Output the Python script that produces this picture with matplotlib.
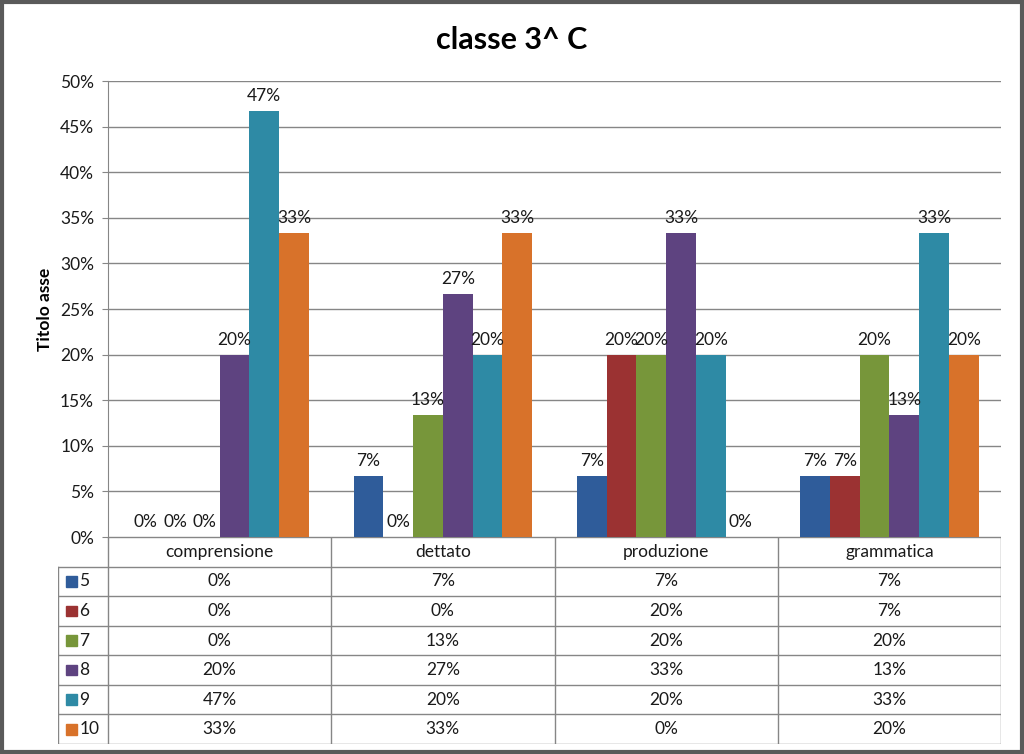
import numpy as np
import matplotlib.pyplot as plt
from matplotlib.patches import Rectangle

plt.rcParams['font.family'] = ['Lato', 'DejaVu Sans']

# --- dati ---
categorie = ["comprensione", "dettato", "produzione", "grammatica"]
serie = ["5", "6", "7", "8", "9", "10"]
valori = [
    [0.0, 1 / 15, 1 / 15, 1 / 15],      # 5
    [0.0, 0.0, 3 / 15, 1 / 15],         # 6
    [0.0, 2 / 15, 3 / 15, 3 / 15],      # 7
    [3 / 15, 4 / 15, 5 / 15, 2 / 15],   # 8
    [7 / 15, 3 / 15, 3 / 15, 5 / 15],   # 9
    [5 / 15, 5 / 15, 0.0, 3 / 15],      # 10
]
colori = ["#2F5C9A", "#9B3232", "#77963A", "#5E4380", "#2E8AA5", "#D8722A"]

W, H = 1024, 754
fig = plt.figure(figsize=(W / 100, H / 100), dpi=100)
FS = 12.5
tc = "#1a1a1a"

# --- grafico ---
x0, x1, y_top, y_zero = 108, 1001, 81, 537
ax = fig.add_axes([x0 / W, 1 - y_zero / H, (x1 - x0) / W, (y_zero - y_top) / H])
x = np.arange(len(categorie))
larg = 1 / 7.5
for i, (nome, vals) in enumerate(zip(serie, valori)):
    pos = x + (i - 2.5) * larg
    ax.bar(pos, vals, width=larg, color=colori[i], zorder=3)
    for px, v in zip(pos, vals):
        ax.annotate(f"{v:.0%}", (px, v), xytext=(0, 5), textcoords="offset points",
                    ha="center", va="bottom", fontsize=FS, color=tc, zorder=4)

ax.set_xlim(-0.5, len(categorie) - 0.5)
ax.set_ylim(0, 0.5)
ax.set_yticks(np.arange(0, 0.51, 0.05))
ax.set_yticklabels([f"{t:.0%}" for t in np.arange(0, 0.51, 0.05)], fontsize=FS, color=tc)
ax.set_xticks([])
ax.tick_params(axis="y", length=4, color="#868686", pad=6)
ax.grid(axis="y", color="#868686", lw=1, zorder=0)
for s in ["top", "right", "bottom"]:
    ax.spines[s].set_visible(False)
ax.spines["left"].set_color("#868686")
ax.set_ylabel("Titolo asse", fontsize=FS, fontweight="bold", labelpad=5)

fig.text(512 / W, 1 - 40 / H, "classe 3^ C", ha="center", va="center",
         fontsize=22, fontweight="bold")

# --- tabella dati ---
t_left, t_bottom = 58, 744
tax = fig.add_axes([t_left / W, 1 - t_bottom / H, (x1 - t_left) / W, (t_bottom - y_zero) / H])
legx = -0.5 - (x0 - t_left) / (x1 - x0) * len(categorie)
tax.set_xlim(legx, len(categorie) - 0.5)
tax.set_ylim(len(serie) + 1, 0)
tax.axis("off")
lc = "#868686"
# bordi orizzontali
tax.plot([-0.5, len(categorie) - 0.5], [0, 0], color=lc, lw=1)
for r in range(1, len(serie) + 2):
    tax.plot([legx, len(categorie) - 0.5], [r, r], color=lc, lw=1)
# bordi verticali
tax.plot([legx, legx], [1, len(serie) + 1], color=lc, lw=1)
for c in range(len(categorie) + 1):
    tax.plot([c - 0.5, c - 0.5], [0, len(serie) + 1], color=lc, lw=1)
for j, cat in enumerate(categorie):
    tax.text(j, 0.5, cat, ha="center", va="center", fontsize=FS, color=tc)
for i, nome in enumerate(serie):
    yc = i + 1.5
    tax.add_patch(Rectangle((legx + 0.035, yc - 0.18), 0.05, 0.36, color=colori[i]))
    tax.text(legx + 0.095, yc, nome, ha="left", va="center", fontsize=FS, color=tc)
    for j in range(len(categorie)):
        tax.text(j, yc, f"{valori[i][j]:.0%}", ha="center", va="center", fontsize=FS,
                 color=tc)

# cornice
fig.add_artist(Rectangle((0.0015, 0.002), 0.997, 0.996, transform=fig.transFigure,
                         fill=False, edgecolor="#5a5a5a", lw=3))

fig.savefig("out.png", dpi=100)
